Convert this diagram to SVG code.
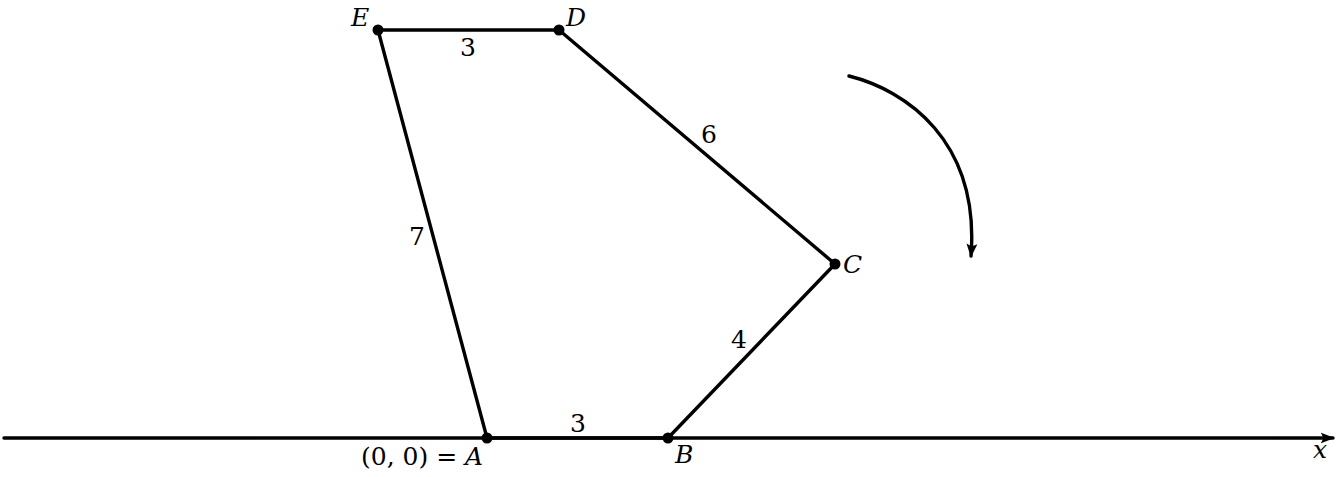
<svg xmlns="http://www.w3.org/2000/svg" width="1337" height="477" viewBox="0 0 1337 477">
<style>
.e{stroke:#000;stroke-width:3.4;fill:none;stroke-linecap:round}
.v{fill:#000}
text{font-family:"DejaVu Serif","Liberation Serif",serif;font-size:25px;fill:#000}
.i{font-style:italic}
</style>
<defs>
<marker id="ah" viewBox="0 0 10 10" refX="9" refY="5" markerWidth="4" markerHeight="4" orient="auto" markerUnits="strokeWidth">
<path d="M0,1 L10,5 L0,9 L2,5 Z" fill="#000"/>
</marker>
</defs>
<rect width="1337" height="477" fill="#fff"/>
<g id="connectors">
<line id="x-axis" class="e" x1="4" y1="438" x2="1333" y2="438" marker-end="url(#ah)"/>
<line id="AB" class="e" x1="487" y1="438" x2="668" y2="438"/>
<line id="BC" class="e" x1="668" y1="438" x2="835" y2="264"/>
<line id="CD" class="e" x1="835" y1="264" x2="559" y2="30"/>
<line id="DE" class="e" x1="559" y1="30" x2="378" y2="30"/>
<line id="EA" class="e" x1="378" y1="30" x2="487" y2="438"/>
<path id="rotation" class="e" d="M849,76 C905,90 980,140 971,256" marker-end="url(#ah)"/>
</g>
<g id="A"><circle class="v" cx="487" cy="438" r="5.5"/><text x="361" y="465">(0, 0) = <tspan class="i">A</tspan></text></g>
<g id="B"><circle class="v" cx="668" cy="438" r="5.5"/><text class="i" x="675" y="463">B</text></g>
<g id="C"><circle class="v" cx="835" cy="264" r="5.5"/><text class="i" x="843" y="273">C</text></g>
<g id="D"><circle class="v" cx="559" cy="30" r="5.5"/><text class="i" x="566" y="26">D</text></g>
<g id="E"><circle class="v" cx="378" cy="30" r="5.5"/><text class="i" x="351" y="26">E</text></g>
<g id="labels">
<text x="468" y="56" text-anchor="middle">3</text>
<text x="709" y="143" text-anchor="middle">6</text>
<text x="417" y="245" text-anchor="middle">7</text>
<text x="739" y="348" text-anchor="middle">4</text>
<text x="578" y="432" text-anchor="middle">3</text>
<text class="i" x="1320" y="458" text-anchor="middle">x</text>
</g>
</svg>
